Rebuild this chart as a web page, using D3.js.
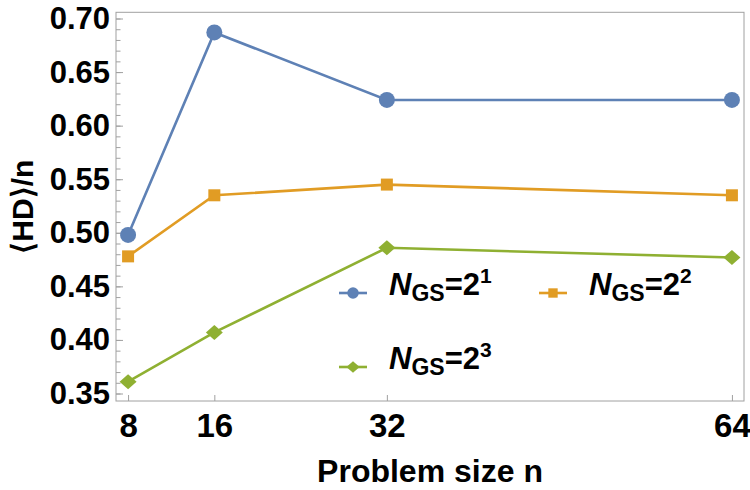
<!DOCTYPE html>
<html>
<head>
<meta charset="utf-8">
<script src="https://cdn.jsdelivr.net/npm/d3@7"></script>
<style>
  body { margin: 0; background: #fff; }
  text { font-family: "Liberation Sans", Arial, sans-serif; font-weight: bold; fill: #000; }
</style>
</head>
<body>
<div id="chart"></div>
<script>
// problem sizes on the x axis
const sizes = [8, 16, 32, 64];
// <HD>/n for each number of ground states
const ngs1 = [0.498, 0.687, 0.624, 0.624];
const ngs2 = [0.478, 0.535, 0.545, 0.535];
const ngs3 = [0.361, 0.407, 0.486, 0.477];
const exponents = ["1", "2", "3"];
const yMajor = [0.35, 0.40, 0.45, 0.50, 0.55, 0.60, 0.65, 0.70];
const yMinor = d3.range(35, 71).map(d => d / 100);

const W = 750, H = 490;
const frame = { left: 116, right: 744, top: 12.3, bottom: 401 };
const colors = ["#5e81b5", "#e19c24", "#8fb032"];

const svg = d3.select("#chart").append("svg")
  .attr("width", W).attr("height", H);

const x = d3.scaleLinear().domain([6.88, 65.12]).range([frame.left, frame.right]);
const y = d3.scaleLinear().domain([0.343, 0.7058]).range([frame.bottom, frame.top]);

// frame
svg.append("rect")
  .attr("x", frame.left).attr("y", frame.top)
  .attr("width", frame.right - frame.left).attr("height", frame.bottom - frame.top)
  .attr("fill", "none").attr("stroke", "#a0a0a0").attr("stroke-width", 1);

// y minor ticks
svg.append("g")
  .attr("transform", `translate(${frame.left},0)`)
  .call(d3.axisLeft(y).tickValues(yMinor).tickSize(-4.5).tickFormat(""))
  .call(g => g.select(".domain").remove())
  .call(g => g.selectAll(".tick line").attr("stroke", "#a0a0a0"));

// y major ticks
svg.append("g")
  .attr("transform", `translate(${frame.left},0)`)
  .call(d3.axisLeft(y).tickValues(yMajor).tickSize(-7).tickPadding(6).tickFormat(d3.format(".2f")))
  .call(g => g.select(".domain").remove())
  .call(g => g.selectAll(".tick line").attr("stroke", "#a0a0a0"))
  .call(g => g.selectAll(".tick text").style("font-size", "31px").attr("fill", "#000"));

// x ticks
svg.append("g")
  .attr("transform", `translate(0,${frame.bottom})`)
  .call(d3.axisBottom(x).tickValues(sizes).tickSize(-6).tickPadding(13).tickFormat(d3.format("d")))
  .call(g => g.select(".domain").remove())
  .call(g => g.selectAll(".tick line").attr("stroke", "#a0a0a0"))
  .call(g => g.selectAll(".tick text").style("font-size", "33px").attr("fill", "#000"));

// axis titles
svg.append("text")
  .attr("x", (frame.left + frame.right) / 2).attr("y", 482)
  .attr("text-anchor", "middle").style("font-size", "32px")
  .text("Problem size n");

svg.append("text")
  .attr("transform", `translate(33,${(frame.top + frame.bottom) / 2}) rotate(-90)`)
  .attr("text-anchor", "middle").style("font-size", "30px")
  .text("\u27E8HD\u27E9/n");

const series = [ngs1, ngs2, ngs3];
const line = d3.line().x((d, i) => x(sizes[i])).y(d => y(d));

function marker(g, k, cx, cy, s) {
  if (k === 0) {
    g.append("circle").attr("cx", cx).attr("cy", cy).attr("r", 8 * s).attr("fill", colors[0]);
  } else if (k === 1) {
    g.append("rect").attr("x", cx - 6 * s).attr("y", cy - 6 * s)
      .attr("width", 12 * s).attr("height", 12 * s).attr("fill", colors[1]);
  } else {
    g.append("path")
      .attr("d", `M${cx - 8.5 * s},${cy}L${cx},${cy - 7.5 * s}L${cx + 8.5 * s},${cy}L${cx},${cy + 7.5 * s}Z`)
      .attr("fill", colors[2]);
  }
}

const plot = svg.append("g");
series.forEach((vals, k) => {
  plot.append("path").datum(vals)
    .attr("fill", "none").attr("stroke", colors[k]).attr("stroke-width", 2.6)
    .attr("d", line);
});
series.forEach((vals, k) => {
  vals.forEach((v, i) => marker(plot, k, x(sizes[i]), y(v), 1));
});

// legend
const legendPos = [[353, 293], [553, 293], [353, 367]];
const legend = svg.append("g");
legendPos.forEach(([lx, ly], k) => {
  legend.append("line")
    .attr("x1", lx - 14).attr("x2", lx + 14).attr("y1", ly).attr("y2", ly)
    .attr("stroke", colors[k]).attr("stroke-width", 2.6);
  marker(legend, k, lx, ly, k === 0 ? 0.72 : 0.78);
  const t = legend.append("text").attr("x", lx + 36).attr("y", ly + 2);
  t.append("tspan").style("font-size", "31px").style("font-style", "italic").text("N");
  t.append("tspan").style("font-size", "23px").attr("dy", 6).text("GS");
  t.append("tspan").style("font-size", "31px").attr("dy", -6).text("=2");
  t.append("tspan").style("font-size", "21px").attr("dy", -12).text(exponents[k]);
});
</script>
</body>
</html>
